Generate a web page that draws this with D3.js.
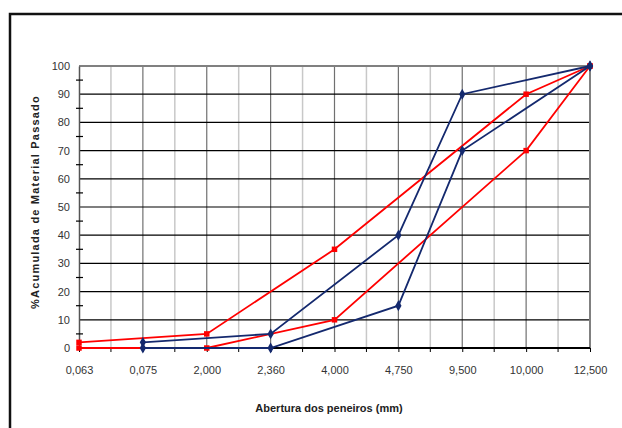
<!DOCTYPE html>
<html>
<head>
<meta charset="utf-8">
<script src="https://cdn.jsdelivr.net/npm/d3@7"></script>
<style>
  html, body { margin: 0; padding: 0; background: #fff; }
  svg { display: block; }
  text { font-family: "Liberation Sans", Arial, sans-serif; }
</style>
</head>
<body>
<svg id="chart" width="622" height="428"></svg>
<script>
// ---- Data ----
const categories = ["0,063", "0,075", "2,000", "2,360", "4,000", "4,750", "9,500", "10,000", "12,500"];
const redUpper  = [2, null, 5, null, 35, null, null, 90, 100];
const redLower  = [0, null, 0, null, 10, null, null, 70, 100];
const blueUpper = [null, 2, null, 5, null, 40, 90, null, 100];
const blueLower = [null, 0, null, 0, null, 15, 70, null, 100];
const yTicks = [0, 10, 20, 30, 40, 50, 60, 70, 80, 90, 100];
const yMinorTicks = [5, 15, 25, 35, 45, 55, 65, 75, 85, 95];

const series = [
  { name: "redUpper", values: redUpper, color: "#ff0000", marker: "square" },
  { name: "redLower", values: redLower, color: "#ff0000", marker: "square" },
  { name: "blueUpper", values: blueUpper, color: "#14296e", marker: "diamond" },
  { name: "blueLower", values: blueLower, color: "#14296e", marker: "diamond" }
];

const svg = d3.select("#chart");

// outer frame (extends beyond viewport)
svg.append("rect")
  .attr("x", 10).attr("y", 14).attr("width", 700).attr("height", 500)
  .attr("fill", "none").attr("stroke", "#111").attr("stroke-width", 2.5);

const x = d3.scalePoint().domain(categories).range([79, 590]);
const y = d3.scaleLinear().domain([0, 100]).range([348, 66]);
const step = x.step();

// light minor vertical gridlines at midpoints
const g = svg.append("g");
g.selectAll("line.vminor")
  .data(categories.slice(0, -1))
  .join("line")
  .attr("x1", d => x(d) + step / 2).attr("x2", d => x(d) + step / 2)
  .attr("y1", y(100)).attr("y2", y(0))
  .attr("stroke", "#c8c8c8").attr("stroke-width", 1.5);

// major vertical gridlines at categories
g.selectAll("line.vmajor")
  .data(categories.slice(1, -1))
  .join("line")
  .attr("x1", d => x(d)).attr("x2", d => x(d))
  .attr("y1", y(100)).attr("y2", y(0))
  .attr("stroke", "#707070").attr("stroke-width", 1.2);

// horizontal gridlines
g.selectAll("line.h")
  .data(yTicks.filter(v => v > 0 && v < 100))
  .join("line")
  .attr("x1", x.range()[0]).attr("x2", x.range()[1])
  .attr("y1", d => y(d)).attr("y2", d => y(d))
  .attr("stroke", "#000").attr("stroke-width", 1.2);

// plot area border top & right
svg.append("line").attr("x1", 79).attr("x2", 590).attr("y1", y(100)).attr("y2", y(100))
  .attr("stroke", "#808080").attr("stroke-width", 2);
svg.append("line").attr("x1", 590).attr("x2", 590).attr("y1", y(100)).attr("y2", y(0))
  .attr("stroke", "#808080").attr("stroke-width", 2);

// Y axis
const yAxis = d3.axisLeft(y).tickValues(yTicks).tickSize(0).tickPadding(9);
const yg = svg.append("g").attr("transform", `translate(${x.range()[0]},0)`).call(yAxis);
yg.select(".domain").attr("stroke", "#555").attr("stroke-width", 1.5);
yg.selectAll("text").attr("font-size", 11).attr("fill", "#333");
svg.append("g").selectAll("line")
  .data(yMinorTicks)
  .join("line")
  .attr("x1", 76).attr("x2", 83)
  .attr("y1", d => y(d)).attr("y2", d => y(d))
  .attr("stroke", "#000").attr("stroke-width", 1.2);

// X axis
const xAxis = d3.axisBottom(x).tickSize(4).tickPadding(14);
const xg = svg.append("g").attr("transform", `translate(0,${y(0)})`).call(xAxis);
xg.select(".domain").attr("stroke", "#000").attr("stroke-width", 2).attr("d", `M79,0H590`);
xg.selectAll(".tick line").attr("stroke", "#000");
xg.selectAll("text").attr("font-size", 11).attr("fill", "#333");
svg.append("g").selectAll("line")
  .data(categories.slice(0, -1))
  .join("line")
  .attr("x1", d => x(d) + step / 2).attr("x2", d => x(d) + step / 2)
  .attr("y1", y(0)).attr("y2", y(0) + 4)
  .attr("stroke", "#000");

// series lines
const line = d3.line().x(d => x(d.c)).y(d => y(d.v));
series.forEach(s => {
  const pts = categories.map((c, i) => ({ c, v: s.values[i] })).filter(d => d.v !== null);
  svg.append("path").datum(pts)
    .attr("d", line)
    .attr("fill", "none").attr("stroke", s.color).attr("stroke-width", 1.8);
  const sym = s.marker === "square" ? d3.symbolSquare : d3.symbolDiamond;
  svg.append("g").selectAll("path")
    .data(pts)
    .join("path")
    .attr("d", d3.symbol().type(sym).size(s.marker === "square" ? 30 : 34))
    .attr("transform", d => `translate(${x(d.c)},${y(d.v)})`)
    .attr("fill", s.color);
});

// axis titles
svg.append("text")
  .attr("x", 329).attr("y", 412)
  .attr("text-anchor", "middle")
  .attr("font-size", 11).attr("font-weight", "bold").attr("fill", "#222")
  .text("Abertura dos peneiros (mm)");

svg.append("text")
  .attr("transform", "translate(39,202) rotate(-90)")
  .attr("text-anchor", "middle")
  .attr("font-size", 11).attr("font-weight", "bold").attr("fill", "#222")
  .attr("letter-spacing", 1.2)
  .text("%Acumulada de Material Passado");
</script>
</body>
</html>
